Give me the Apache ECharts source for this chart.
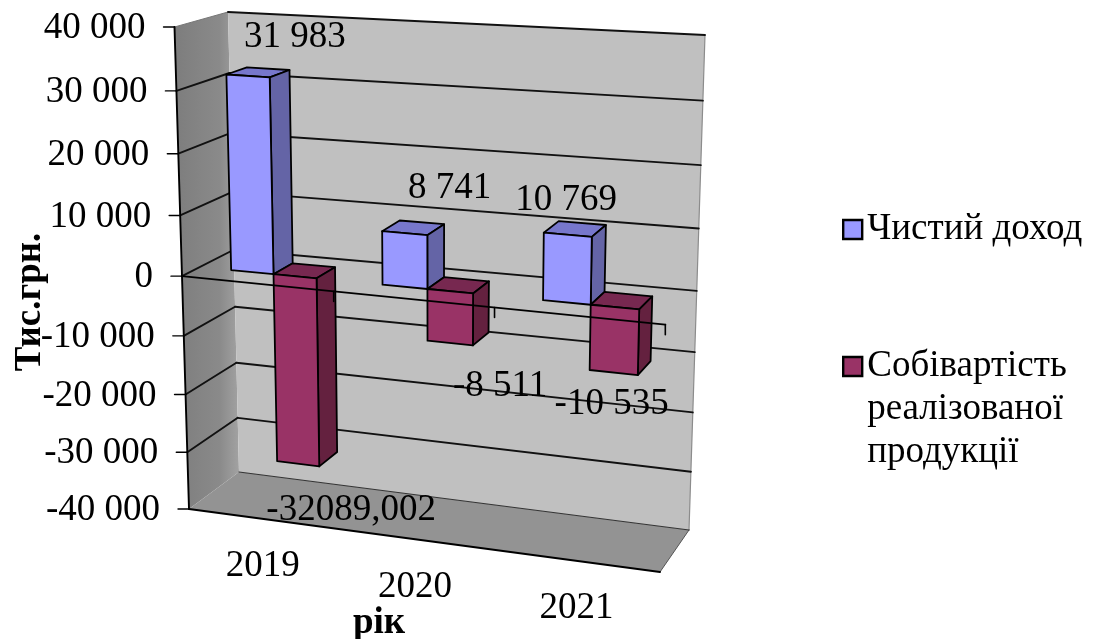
<!DOCTYPE html>
<html>
<head>
<meta charset="utf-8">
<style>html,body{margin:0;padding:0;background:#fff}#chart{width:1103px;height:639px}</style>
<script src="https://cdn.jsdelivr.net/npm/echarts@6/dist/echarts.min.js"></script>
</head>
<body>
<div id="chart"></div>
<script>
// Chart content
const years = ['2019', '2020', '2021'];
const incomeName = 'Чистий доход';
const costName = 'Собівартість\nреалізованої\nпродукції';
const incomeValues = [31983, 8741, 10769];
const costValues = [-32089.002, -8511, -10535];
const incomeLabels = ['31 983', '8 741', '10 769'];
const costLabels = ['-32089,002', '-8 511', '-10 535'];
const yTicks = [40000, 30000, 20000, 10000, 0, -10000, -20000, -30000, -40000];
const yTickLabels = ['40 000', '30 000', '20 000', '10 000', '0', '-10 000', '-20 000', '-30 000', '-40 000'];

// Box view: screen corners of the plot volume (front/back, left/right, top/bottom)
const view = {
  flt: [174.5, 27], flb: [189, 509], blt: [228, 12], blb: [239, 472],
  brt: [705, 35], brb: [689, 530], frt: [671, 60], frb: [660, 572],
  kx: -0.085, ky: 0.07
};
const barDepth = [0.345, 0.74];
const gapWidth = 1.5;
const incomeLabelShift = [[47, -39], [45, -44.5], [-1.5, -34.5]];
const costLabelShift = [[53, 47], [50, 43], [-2, 32]];

const FONT = '"Liberation Serif","Times New Roman",serif';
const TEXT_SIZE = 37;

function warp(a, k) { return a * (1 + k) / (1 + k * a); }
function mix(a, b, f) { return [a[0] + (b[0] - a[0]) * f, a[1] + (b[1] - a[1]) * f]; }

// Maps a pixel of the flat cartesian grid plus a depth (0 front, 1 back) onto the box view.
function projector(cs) {
  return function (px, py, w) {
    const u = warp((px - cs.x) / cs.width, view.kx);
    const t = warp((py - cs.y) / cs.height, view.ky);
    const front = mix(mix(view.flt, view.frt, u), mix(view.flb, view.frb, u), t);
    const back = mix(mix(view.blt, view.brt, u), mix(view.blb, view.brb, u), t);
    return mix(front, back, w);
  };
}

function line(a, b, color, width) {
  return { type: 'line', shape: { x1: a[0], y1: a[1], x2: b[0], y2: b[1] },
    style: { stroke: color, lineWidth: width, lineCap: 'round' } };
}
function poly(points, fill, stroke, width) {
  return { type: 'polygon', shape: { points: points },
    style: { fill: fill, stroke: stroke || 'none', lineWidth: width || 0, lineJoin: 'round' } };
}
function label(text, x, y, align) {
  return { type: 'text', x: x, y: y,
    style: { text: text, align: align || 'center', verticalAlign: 'middle', fill: '#000',
      font: TEXT_SIZE + 'px ' + FONT } };
}

// Walls, floor and gridlines behind the bars
function renderFrame(params, api) {
  const cs = params.coordSys, P = projector(cs);
  const x0 = cs.x, x1 = cs.x + cs.width, top = cs.y, bot = cs.y + cs.height;
  const kids = [];
  kids.push(poly([P(x0, top, 0), P(x0, top, 1), P(x0, bot, 1), P(x0, bot, 0)],
    new echarts.graphic.LinearGradient(0, 0, 1, 0, [
      { offset: 0, color: '#7d7d7d' }, { offset: 0.7, color: '#8a8a8a' }, { offset: 1, color: '#a2a2a2' }])));
  kids.push(poly([P(x0, top, 1), P(x1, top, 1), P(x1, bot, 1), P(x0, bot, 1)], '#c0c0c0'));
  kids.push(poly([P(x0, bot, 0), P(x0, bot, 1), P(x1, bot, 1), P(x1, bot, 0)], '#939393'));
  kids.push(line(P(x1, top, 1), P(x1, bot, 1), '#8c8c8c', 1.2));
  kids.push(line(P(x1, bot, 1), P(x1, bot, 0), '#555', 1));
  kids.push(line(P(x0, top, 0), P(x0, top, 1), '#777', 1));
  kids.push(line(P(x0, bot, 1), P(x1, bot, 1), '#333', 1.2));
  yTicks.forEach(function (v) {
    const py = api.coord([0, v])[1];
    if (v !== yTicks[yTicks.length - 1]) {
      if (v !== yTicks[0]) kids.push(line(P(x0, py, 0), P(x0, py, 1), '#111', 1.9));
      kids.push(line(P(x0, py, 1), P(x1, py, 1), '#111', 1.9));
    }
  });
  return { type: 'group', children: kids };
}

// One box per data point; slot 0 sits left of the category centre, slot 1 right of it
function barRenderer(slot, colors) {
  return function (params, api) {
    const cs = params.coordSys, P = projector(cs);
    const c = api.coord([api.value(0), api.value(1)]);
    const z = api.coord([api.value(0), 0]);
    const w = api.size([1, 0])[0] / (2 + gapWidth);
    const xl = c[0] + (slot - 1) * w, xr = xl + w;
    const yt = Math.min(c[1], z[1]), yb = Math.max(c[1], z[1]);
    const d0 = barDepth[0], d1 = barDepth[1];
    const edge = '#000';
    return { type: 'group', children: [
      poly([P(xl, yt, d0), P(xr, yt, d0), P(xr, yt, d1), P(xl, yt, d1)], colors.top, edge, 1.8),
      poly([P(xr, yt, d0), P(xr, yt, d1), P(xr, yb, d1), P(xr, yb, d0)], colors.side, edge, 1.8),
      poly([P(xl, yt, d0), P(xr, yt, d0), P(xr, yb, d0), P(xl, yb, d0)], colors.front, edge, 1.8)
    ] };
  };
}

// Zero line, tick marks and all chart text above the bars
function renderOverlay(params, api) {
  const cs = params.coordSys, P = projector(cs);
  const x0 = cs.x, x1 = cs.x + cs.width, bot = cs.y + cs.height, top = cs.y;
  const kids = [];
  kids.push(line(P(x0, top, 0), P(x0, bot, 0), '#000', 1.9));
  kids.push(line(P(x0, bot, 0), P(x1, bot, 0), '#000', 1.9));
  const zeroY = api.coord([0, 0])[1];
  kids.push(line(P(x0, zeroY, 0), P(x1, zeroY, 0), '#000', 1.9));
  for (let i = 1; i <= years.length; i++) {
    const a = P(x0 + cs.width * i / years.length, zeroY, 0);
    kids.push(line(a, [a[0], a[1] + 10], '#000', 1.6));
  }
  yTicks.forEach(function (v, i) {
    const a = P(x0, api.coord([0, v])[1], 0);
    kids.push(line([a[0] - 11, a[1]], a, '#000', 1.4));
    kids.push(label(yTickLabels[i], a[0] - 29, a[1] + 1.5, 'right'));
  });
  years.forEach(function (y, i) {
    const a = P(api.coord([i, 0])[0], bot, 0);
    kids.push(label(y, a[0] + 1, a[1] + 48));
  });
  const w = api.size([1, 0])[0] / (2 + gapWidth);
  function valueLabel(values, texts, shifts, slot) {
    values.forEach(function (v, i) {
      const c = api.coord([i, v]);
      const a = P(c[0] + (slot - 0.5) * w, c[1], barDepth[0]);
      kids.push(label(texts[i], a[0] + shifts[i][0], a[1] + shifts[i][1]));
    });
  }
  valueLabel(incomeValues, incomeLabels, incomeLabelShift, 0);
  valueLabel(costValues, costLabels, costLabelShift, 1);
  return { type: 'group', children: kids };
}

const chart = echarts.init(document.getElementById('chart'), null, { renderer: 'canvas' });
chart.setOption({
  animation: false,
  backgroundColor: '#fff',
  grid: { left: 100, top: 50, width: 500, height: 500, show: false },
  xAxis: { type: 'category', data: years, show: false },
  yAxis: { type: 'value', min: -40000, max: 40000, interval: 10000, show: false },
  legend: {
    orient: 'vertical', left: 837, top: 203, itemWidth: 19, itemHeight: 19, itemGap: 8,
    icon: 'rect', selectedMode: false,
    itemStyle: { borderColor: '#000', borderWidth: 2.4 },
    textStyle: { fontFamily: FONT, fontSize: TEXT_SIZE, lineHeight: 43, color: '#000' },
    // Leading blank lines keep the swatch level with the first line of a wrapped name
    formatter: function (name) {
      return name.indexOf('\n') >= 0 ? '\n\n' + name : name;
    },
    data: [{ name: incomeName }, { name: costName }]
  },
  graphic: [
    { type: 'text', x: 30, y: 302, rotation: Math.PI / 2,
      style: { text: 'Тис.грн.', font: 'bold 37px ' + FONT, fill: '#000', align: 'center', verticalAlign: 'middle' } },
    { type: 'text', x: 379, y: 623,
      style: { text: 'рік', font: 'bold 37px ' + FONT, fill: '#000', align: 'center', verticalAlign: 'middle' } }
  ],
  series: [
    { type: 'custom', coordinateSystem: 'cartesian2d', clip: false, silent: true, z: 1,
      data: [[0, 0]], encode: { x: 0, y: 1 }, renderItem: renderFrame },
    { type: 'custom', name: incomeName, coordinateSystem: 'cartesian2d', clip: false, z: 2,
      itemStyle: { color: '#9999ff' }, encode: { x: 0, y: 1 },
      data: incomeValues.map(function (v, i) { return [i, v]; }),
      renderItem: barRenderer(0, { front: '#9999ff', side: '#6464a6', top: '#7777cc' }) },
    { type: 'custom', name: costName, coordinateSystem: 'cartesian2d', clip: false, z: 3,
      itemStyle: { color: '#993366' }, encode: { x: 0, y: 1 },
      data: costValues.map(function (v, i) { return [i, v]; }),
      renderItem: barRenderer(1, { front: '#993366', side: '#64213f', top: '#772850' }) },
    { type: 'custom', coordinateSystem: 'cartesian2d', clip: false, silent: true, z: 4,
      data: [[0, 0]], encode: { x: 0, y: 1 }, renderItem: renderOverlay }
  ]
});
</script>
</body>
</html>
